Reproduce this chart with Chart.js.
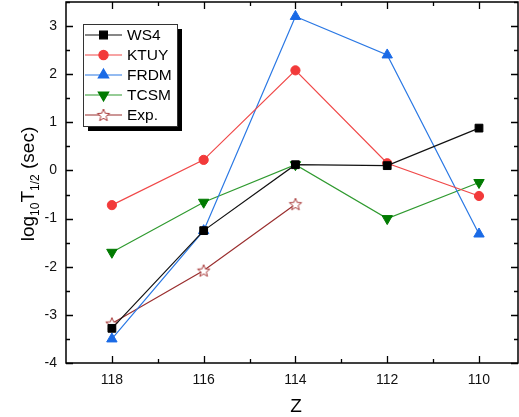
<!DOCTYPE html>
<html>
<head>
<meta charset="utf-8">
<script src="https://cdn.jsdelivr.net/npm/chart.js@4"></script>
<style>
  html, body { margin: 0; padding: 0; background: #fff; }
  #wrap { width: 519px; height: 417px; }
</style>
</head>
<body>
<div id="wrap"><canvas id="c" width="519" height="417"></canvas></div>
<script>
// Z values (x axis, reversed)
const zValues = [118, 116, 114, 112, 110];
const xTicks = [110, 112, 114, 116, 118];
const yTicks = [-4, -3, -2, -1, 0, 1, 2, 3];

// log10 T1/2 (sec) per model
const ws4 = [-3.28, -1.25, 0.12, 0.10, 0.88];
const ktuy = [-0.72, 0.22, 2.08, 0.15, -0.53];
const frdm = [-3.50, -1.25, 3.20, 2.40, -1.32];
const tcsm = [-1.70, -0.66, 0.12, -1.00, -0.25];
const expt = [-3.18, -2.08, -0.70];

const FONT = 'Liberation Sans, Arial, sans-serif';

// open star marker (Chart.js 'star' is an asterisk, not this)
function starImage(color) {
  const c = document.createElement('canvas');
  c.width = 16; c.height = 16;
  const g = c.getContext('2d');
  g.beginPath();
  for (let i = 0; i < 10; i++) {
    const r = i % 2 ? 2.8 : 6.5;
    const a = -Math.PI / 2 + i * Math.PI / 5;
    const px = 8 + r * Math.cos(a), py = 8.5 + r * Math.sin(a);
    i ? g.lineTo(px, py) : g.moveTo(px, py);
  }
  g.closePath();
  g.fillStyle = '#fff';
  g.fill();
  g.strokeStyle = color;
  g.lineWidth = 1;
  g.stroke();
  return c;
}

const pts = vals => vals.map((v, i) => ({ x: zValues[i], y: v }));

const datasets = [
  { label: 'WS4', data: pts(ws4), borderColor: '#111', pointBackgroundColor: '#000', pointBorderColor: '#000',
    pointStyle: 'rect', pointRadius: 5.5 },
  { label: 'KTUY', data: pts(ktuy), borderColor: '#f04848', pointBackgroundColor: '#f23a3a', pointBorderColor: '#f23a3a',
    pointStyle: 'circle', pointRadius: 4.6 },
  { label: 'FRDM', data: pts(frdm), borderColor: '#2a78e4', pointBackgroundColor: '#1a6ae6', pointBorderColor: '#1a6ae6',
    pointStyle: 'triangle', pointRadius: 6 },
  { label: 'TCSM', data: pts(tcsm), borderColor: '#2f9a2f', pointBackgroundColor: '#007a00', pointBorderColor: '#007a00',
    pointStyle: 'triangle', pointRotation: 180, pointRadius: 6 },
  { label: 'Exp.', data: pts(expt), borderColor: '#9a2e2e', pointStyle: starImage('#a83a3a'), pointRadius: 7 },
].map(d => Object.assign({ borderWidth: 1.2, pointBorderWidth: 1, tension: 0, showLine: true }, d));

// frame + inward ticks on all four sides
const framePlugin = {
  id: 'frame',
  afterDraw(chart) {
    const { ctx, chartArea: a, scales: { x, y } } = chart;
    ctx.save();
    ctx.strokeStyle = '#000';
    ctx.lineWidth = 1.5;
    ctx.strokeRect(a.left, a.top, a.right - a.left, a.bottom - a.top);
    ctx.lineWidth = 1.3;
    ctx.beginPath();
    for (let v = 110; v <= 118; v++) {
      const px = Math.round(x.getPixelForValue(v)) + 0.5;
      const len = v % 2 === 0 ? 7 : 4;
      ctx.moveTo(px, a.bottom); ctx.lineTo(px, a.bottom - len);
      ctx.moveTo(px, a.top); ctx.lineTo(px, a.top + len);
    }
    for (let v = -4; v <= 3.5; v += 0.5) {
      const py = Math.round(y.getPixelForValue(v)) + 0.5;
      const len = Number.isInteger(v) ? 7 : 4;
      ctx.moveTo(a.left, py); ctx.lineTo(a.left + len, py);
      ctx.moveTo(a.right, py); ctx.lineTo(a.right - len, py);
    }
    ctx.stroke();
    ctx.restore();
  },
};

// axis titles with subscripts
const titlePlugin = {
  id: 'titles',
  afterDraw(chart) {
    const { ctx } = chart;
    ctx.save();
    ctx.fillStyle = '#000';
    ctx.textBaseline = 'alphabetic';
    ctx.font = `19px ${FONT}`;
    ctx.textAlign = 'center';
    ctx.fillText('Z', 296, 412);

    const parts = [
      ['log', 19, 0], ['10', 12, 5], ['T', 19, 0], ['1/2', 12, 5], [' (sec)', 19, 0],
    ];
    let total = 0;
    parts.forEach(p => { ctx.font = `${p[1]}px ${FONT}`; total += ctx.measureText(p[0]).width; });
    ctx.translate(34, 184);
    ctx.rotate(-Math.PI / 2);
    ctx.textAlign = 'left';
    let cx = -total / 2;
    parts.forEach(([t, s, dy]) => {
      ctx.font = `${s}px ${FONT}`;
      ctx.fillText(t, cx, dy);
      cx += ctx.measureText(t).width;
    });
    ctx.restore();
  },
};

// boxed legend with drop shadow
const legendPlugin = {
  id: 'boxLegend',
  afterDraw(chart) {
    const { ctx } = chart;
    const bx = 83, by = 24, bw = 94, bh = 102;
    ctx.save();
    ctx.fillStyle = '#000';
    ctx.fillRect(bx + 5, by + 5, bw, bh);
    ctx.fillStyle = '#fff';
    ctx.fillRect(bx, by, bw, bh);
    ctx.strokeStyle = '#333';
    ctx.lineWidth = 1;
    ctx.strokeRect(bx + 0.5, by + 0.5, bw, bh);
    chart.data.datasets.forEach((d, i) => {
      const ry = 35 + i * 20;
      ctx.strokeStyle = d.borderColor;
      ctx.lineWidth = 1.2;
      ctx.beginPath();
      ctx.moveTo(85, ry); ctx.lineTo(122, ry);
      ctx.stroke();
      ctx.fillStyle = d.pointBackgroundColor || '#fff';
      ctx.strokeStyle = d.pointBorderColor || d.borderColor;
      Chart.helpers.drawPoint(ctx, {
        pointStyle: d.pointStyle, radius: d.pointRadius, rotation: d.pointRotation || 0, borderWidth: 1,
      }, 103.5, ry);
      ctx.fillStyle = '#000';
      ctx.font = `15.5px ${FONT}`;
      ctx.textBaseline = 'middle';
      ctx.textAlign = 'left';
      ctx.fillText(d.label, 127, ry + 1);
    });
    ctx.restore();
  },
};

const noPad = s => { s.paddingTop = 0; s.paddingBottom = 0; s.paddingLeft = 0; s.paddingRight = 0; };

new Chart(document.getElementById('c'), {
  type: 'line',
  data: { datasets },
  options: {
    responsive: false,
    animation: false,
    layout: { autoPadding: false, padding: { top: 2, right: 1, left: 0, bottom: 0 } },
    plugins: { legend: { display: false }, tooltip: { enabled: false } },
    scales: {
      x: {
        type: 'linear', reverse: true, min: 109.15, max: 119,
        afterBuildTicks: s => { s.ticks = xTicks.map(v => ({ value: v })); },
        afterFit: s => { s.height = 54; noPad(s); },
        grid: { display: false, drawTicks: false },
        border: { display: false },
        ticks: { padding: 9, color: '#111', font: { family: FONT, size: 14 }, maxRotation: 0 },
      },
      y: {
        type: 'linear', min: -4, max: 3.5,
        afterBuildTicks: s => { s.ticks = yTicks.map(v => ({ value: v })); },
        afterFit: s => { s.width = 66; noPad(s); },
        grid: { display: false, drawTicks: false },
        border: { display: false },
        ticks: { padding: 9, color: '#111', font: { family: FONT, size: 14 } },
      },
    },
  },
  plugins: [framePlugin, titlePlugin, legendPlugin],
});
</script>
</body>
</html>
